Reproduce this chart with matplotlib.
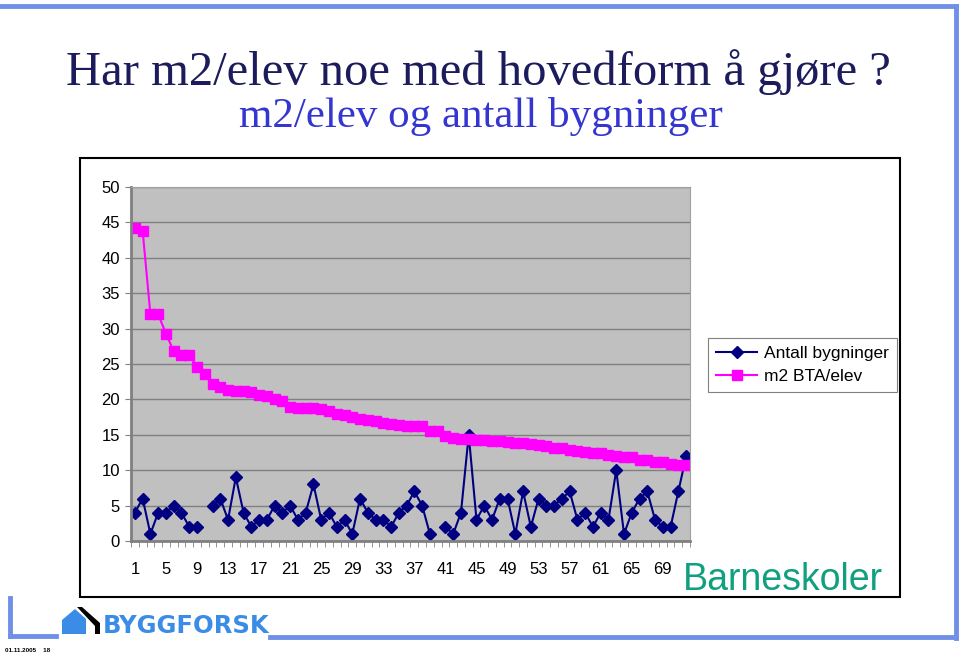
import numpy as np
import matplotlib
matplotlib.use("Agg")
import matplotlib.pyplot as plt
from matplotlib.patches import Rectangle, Polygon
from matplotlib.lines import Line2D

# data (72 schools)
skoler = np.arange(1, 73)
antall_bygninger = [4, 6, 1, 4, 4, 5, 4, 2, 2, np.nan,
                    5, 6, 3, 9, 4, 2, 3, 3, 5, 4,
                    5, 3, 4, 8, 3, 4, 2, 3, 1, 6,
                    4, 3, 3, 2, 4, 5, 7, 5, 1, np.nan,
                    2, 1, 4, 15, 3, 5, 3, 6, 6, 1,
                    7, 2, 6, 5, 5, 6, 7, 3, 4, 2,
                    4, 3, 10, 1, 4, 6, 7, 3, 2, 2,
                    7, 12]
m2_bta_elev = [44.2, 43.8, 32.0, 32.0, 29.3, 26.8, 26.3, 26.3, 24.6, 23.6,
               22.2, 21.7, 21.3, 21.2, 21.2, 21.0, 20.6, 20.5, 20.1, 19.8,
               18.9, 18.8, 18.8, 18.8, 18.6, 18.4, 18.0, 17.8, 17.5, 17.3,
               17.1, 17.0, 16.7, 16.5, 16.4, 16.3, 16.2, 16.2, 15.5, 15.5,
               14.9, 14.5, 14.4, 14.4, 14.3, 14.2, 14.1, 14.1, 14.0, 13.9,
               13.8, 13.7, 13.5, 13.4, 13.2, 13.1, 12.9, 12.7, 12.6, 12.5,
               12.4, 12.2, 12.0, 11.9, 11.8, 11.5, 11.4, 11.2, 11.1, 10.9,
               10.8, 10.7]
x_labels = list(range(1, 70, 4))
y_ticks = list(range(0, 51, 5))

W, H = 960, 655
fig = plt.figure(figsize=(W / 100, H / 100), dpi=100)
fig.patch.set_facecolor("white")


def fx(px):
    return px / W


def fy(py):
    return 1 - py / H


# slide frame
frame_col = "#7090E8"
for xs, ys in [([0, 956], [6, 6]), ([956, 956], [6, 638]), ([270, 956], [637, 637]),
               ([10, 10], [598, 636]), ([10, 56], [636, 636])]:
    fig.add_artist(Line2D([fx(v) for v in xs], [fy(v) for v in ys], color=frame_col, lw=3.5))

# titles
fig.text(fx(478), fy(72), "Har m2/elev noe med hovedform å gjøre ?", ha="center", va="center",
         family="Liberation Serif", fontsize=35, color="#1C1C5C")
fig.text(fx(481), fy(117), "m2/elev og antall bygninger", ha="center", va="center",
         family="Liberation Serif", fontsize=31, color="#3535D0")

# chart box
fig.add_artist(Rectangle((fx(80), fy(597)), fx(820), 439 / H, transform=fig.transFigure,
                         facecolor="none", edgecolor="black", lw=1.5))

ax = fig.add_axes([fx(131), fy(541), fx(690 - 131), (541 - 187) / H])
ax.set_facecolor("#C0C0C0")
ax.plot(skoler, antall_bygninger, color="#000080", marker="D", markersize=6.5, lw=1.5,
        label="Antall bygninger")
ax.plot(skoler, m2_bta_elev, color="#FF00FF", marker="s", markersize=6.5, lw=1.5,
        label="m2 BTA/elev")
ax.set_xlim(0.5, 72.5)
ax.set_ylim(0, 50)
ax.set_yticks(y_ticks)
ax.set_yticklabels([str(v) for v in y_ticks], family="Liberation Sans", fontsize=12)
ax.set_xticks(x_labels)
ax.set_xticklabels([str(v) for v in x_labels], family="Liberation Sans", fontsize=12)
ax.set_xticks(np.arange(0.5, 73, 1), minor=True)
ax.tick_params(axis="x", which="major", length=0, pad=15)
ax.tick_params(axis="x", which="minor", length=4, color="#808080", direction="out")
ax.tick_params(axis="y", length=4, color="#808080", pad=4)
ax.grid(axis="y", color="#808080", lw=1)
ax.set_axisbelow(True)
for s in ["top", "right"]:
    ax.spines[s].set_color("#A0A0A0")
    ax.spines[s].set_linewidth(0.8)
for s in ["left", "bottom"]:
    ax.spines[s].set_color("#808080")
    ax.spines[s].set_linewidth(2)

leg = ax.legend(loc="upper left", bbox_to_anchor=(fx(708), fy(338)), bbox_transform=fig.transFigure,
                fancybox=False, edgecolor="#808080", framealpha=1, borderaxespad=0,
                prop={"family": "Liberation Sans", "size": 12.5}, handlelength=2.4,
                borderpad=0.45, labelspacing=0.45, handletextpad=0.4)
leg.get_frame().set_linewidth(0.8)

fig.text(fx(783), fy(580), "Barneskoler", ha="center", va="center",
         family="Liberation Sans", fontsize=27, color="#10A080")

# logo
logo_blue = "#3A8CE6"
fig.add_artist(Polygon([(fx(62), fy(634)), (fx(62), fy(620)), (fx(75), fy(609)),
                        (fx(86), fy(619)), (fx(86), fy(634))], closed=True,
                       transform=fig.transFigure, facecolor=logo_blue, edgecolor="none"))
fig.add_artist(Polygon([(fx(77), fy(607)), (fx(82), fy(607)), (fx(100), fy(623)),
                        (fx(100), fy(634)), (fx(95), fy(634)), (fx(95), fy(626))], closed=True,
                       transform=fig.transFigure, facecolor="black", edgecolor="none"))
fig.text(fx(103), fy(633), "BYGGFORSK", ha="left", va="baseline", family="DejaVu Sans",
         fontweight="bold", fontsize=17.5, color=logo_blue)
fig.text(fx(5), fy(651), "01.11.2005    18", ha="left", va="center", family="Liberation Sans",
         fontweight="bold", fontsize=4.5, color="black")

fig.savefig("out.png", dpi=100)
